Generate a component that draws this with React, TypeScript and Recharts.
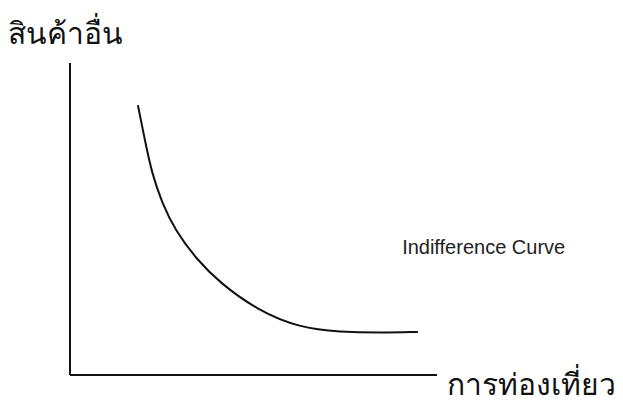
import { LineChart, Line, XAxis, YAxis, ReferenceDot } from "recharts";

// indifference curve (x = travel, y = other goods, 0–100 scale)
const travel = [18.5, 20.4, 22.3, 25.1, 28.6, 34.6, 40.9, 51.0, 62.7, 73.6, 84.5, 94.8];
const otherGoods = [86.5, 75.3, 64.7, 55.1, 46.5, 36.9, 29.5, 20.8, 15.1, 13.8, 13.5, 13.8];

const xTitle = "การท่องเที่ยว";
const yTitle = "สินค้าอื่น";
const curveName = "Indifference Curve";

const data = travel.map((x, i) => ({ x, y: otherGoods[i] }));

const thaiFont = "'Noto Sans', 'DejaVu Sans', sans-serif";

export default function App() {
  return (
    <div style={{ position: "absolute", left: 0, top: 0, width: 623, height: 403, background: "#fff" }}>
      <div style={{ position: "absolute", left: 8, top: 10, fontSize: 30, fontFamily: thaiFont, color: "#111" }}>
        {yTitle}
      </div>
      <div style={{ position: "absolute", left: 447, top: 361, fontSize: 30, fontFamily: thaiFont, color: "#111" }}>
        {xTitle}
      </div>
      <LineChart width={623} height={403} data={data} margin={{ top: 63, right: 186, left: 69, bottom: 27 }}>
        <XAxis type="number" dataKey="x" domain={[0, 100]} height={1} tick={false} tickLine={false} axisLine={{ stroke: "#111", strokeWidth: 2 }} />
        <YAxis type="number" dataKey="y" domain={[0, 100]} width={1} tick={false} tickLine={false} axisLine={{ stroke: "#111", strokeWidth: 2 }} />
        <Line type="basis" dataKey="y" stroke="#111" strokeWidth={2} dot={false} isAnimationActive={false} />
        <ReferenceDot
          x={90.5}
          y={41}
          r={0}
          label={{ value: curveName, position: "right", fill: "#222", fontSize: 20, fontFamily: "'Liberation Sans', Arial, sans-serif", offset: 0 }}
        />
      </LineChart>
    </div>
  );
}
